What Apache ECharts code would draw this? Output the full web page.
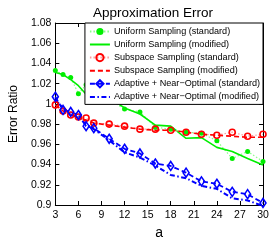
<!DOCTYPE html>
<html><head><meta charset="utf-8">
<script src="https://cdn.jsdelivr.net/npm/echarts@6/dist/echarts.min.js"></script>
<style>html,body{margin:0;padding:0;background:#fff}#c{width:273px;height:245px}</style>
</head><body><div id="c"></div>
<script>
var aValues = [3,4,5,6,7,8,10,12,14,16,18,20,22,24,26,28,30];
var uniformStd = [1.033,1.029,1.026,1.010,1.019,1.004,1.004,0.995,0.992,0.977,0.975,0.972,0.971,0.9635,0.946,0.953,0.943];
var uniformMod = [1.031,1.029,1.024,1.018,1.0095,1.0134,1.006,0.996,0.990,0.979,0.978,0.966,0.9666,0.957,0.953,0.946,0.9395];
var subspaceStd = [0.999,0.993,0.989,0.987,0.986,0.981,0.980,0.978,0.975,0.975,0.974,0.972,0.970,0.969,0.972,0.968,0.970];
var subspaceMod = [0.999,0.993,0.989,0.986,0.984,0.981,0.979,0.977,0.975,0.974,0.974,0.972,0.970,0.969,0.968,0.967,0.967];
var adaptiveStd = [1.007,0.994,0.992,0.989,0.978,0.976,0.9655,0.9556,0.951,0.941,0.9386,0.932,0.9234,0.921,0.913,0.9107,0.902];
var adaptiveMod = [1.004,0.996,0.990,0.986,0.980,0.975,0.964,0.952,0.947,0.939,0.9297,0.9265,0.919,0.916,0.9066,0.9045,0.899];
var xTicks = [3,6,9,12,15,18,21,24,27,30];
var yTicks = [0.9,0.92,0.94,0.96,0.98,1,1.02,1.04,1.06,1.08];
var names = ['Uniform Sampling (standard)','Uniform Sampling (modified)','Subspace Sampling (standard)','Subspace Sampling (modified)','Adaptive + Near\u2212Optimal (standard)','Adaptive + Near\u2212Optimal (modified)'];

function pairs(v){ return aValues.map(function(a,i){ return [a, v[i]]; }); }
var FONT = 'Liberation Sans';
var chart = echarts.init(document.getElementById('c'), null, {renderer:'canvas'});
var axisCommon = {
  axisLine:{show:true, onZero:false, lineStyle:{color:'#000', width:1}},
  axisTick:{show:true, inside:true, length:4, lineStyle:{color:'#000'}},
  splitLine:{show:false}
};
var legendData = names.map(function(n, i){
  return (i % 2 === 1) ? {name:n, itemStyle:{opacity:0}} : {name:n};
});
chart.setOption({
  animation:false,
  backgroundColor:'#fff',
  title:{text:'Approximation Error', left:148, top:1, textAlign:'center',
    textStyle:{fontFamily:FONT, fontSize:13.5, fontWeight:'normal', color:'#000'}},
  grid:{left:36, right:10, top:23, bottom:32},
  legend:{
    data:legendData, orient:'vertical', right:10, top:23,
    backgroundColor:'#fff', borderColor:'#000', borderWidth:1,
    padding:[4,3,3,4], itemWidth:20, itemHeight:9, itemGap:4,
    textStyle:{fontFamily:FONT, fontSize:9.1, color:'#000', padding:[0,0,0,-1]}
  },
  xAxis:[
    Object.assign({type:'value', min:3, max:30, interval:3, position:'bottom',
      name:'a', nameLocation:'middle', nameGap:21,
      nameTextStyle:{fontFamily:FONT, fontSize:14, color:'#000'},
      axisLabel:{fontFamily:FONT, fontSize:10.5, color:'#000', margin:5,
        formatter:function(v){ return xTicks.indexOf(v)>=0 ? String(v) : ''; }}}, axisCommon),
    Object.assign({type:'value', min:3, max:30, interval:3, position:'top', axisLabel:{show:false}}, axisCommon)
  ],
  yAxis:[
    Object.assign({type:'value', min:0.9, max:1.08, interval:0.02, position:'left',
      name:'Error Ratio', nameLocation:'middle', nameGap:25, nameRotate:90,
      nameTextStyle:{fontFamily:FONT, fontSize:12, color:'#000'},
      axisLabel:{fontFamily:FONT, fontSize:10.5, color:'#000', margin:4,
        formatter:function(v){ var r=Math.round(v*100)/100; return yTicks.indexOf(r)>=0 ? String(r) : ''; }}}, axisCommon),
    Object.assign({type:'value', min:0.9, max:1.08, interval:0.02, position:'right', axisLabel:{show:false}}, axisCommon)
  ],
  series:[
    {name:names[0], type:'line', data:pairs(uniformStd), symbol:'circle', symbolSize:5,
      itemStyle:{color:'#00ee00'}, lineStyle:{color:'#88ff88', width:1.2, type:[1.5,2]}, z:3},
    {name:names[1], type:'line', data:pairs(uniformMod), symbol:'none',
      itemStyle:{color:'#00ee00'}, lineStyle:{color:'#00ee00', width:1.6}, z:3},
    {name:names[2], type:'line', data:pairs(subspaceStd), symbol:'circle', symbolSize:6,
      itemStyle:{color:'rgba(255,255,255,0)', borderColor:'#ff0000', borderWidth:1.6},
      lineStyle:{color:'#ff9999', width:1.2, type:[1.5,2]}, z:3},
    {name:names[3], type:'line', data:pairs(subspaceMod), symbol:'none',
      itemStyle:{color:'#ff0000'}, lineStyle:{color:'#ff0000', width:1.6, type:[5,3]}, z:3},
    {name:names[4], type:'line', data:pairs(adaptiveStd), symbol:'diamond', symbolSize:[6,9],
      itemStyle:{color:'rgba(255,255,255,0)', borderColor:'#0000ff', borderWidth:1.6},
      lineStyle:{color:'#0000ff', width:1.8, type:[5,3]}, z:3},
    {name:names[5], type:'line', data:pairs(adaptiveMod), symbol:'none',
      itemStyle:{color:'#0000ff'}, lineStyle:{color:'#0000ff', width:2, type:[5,2.5,1.5,2.5]}, z:3}
  ]
});
</script></body></html>
